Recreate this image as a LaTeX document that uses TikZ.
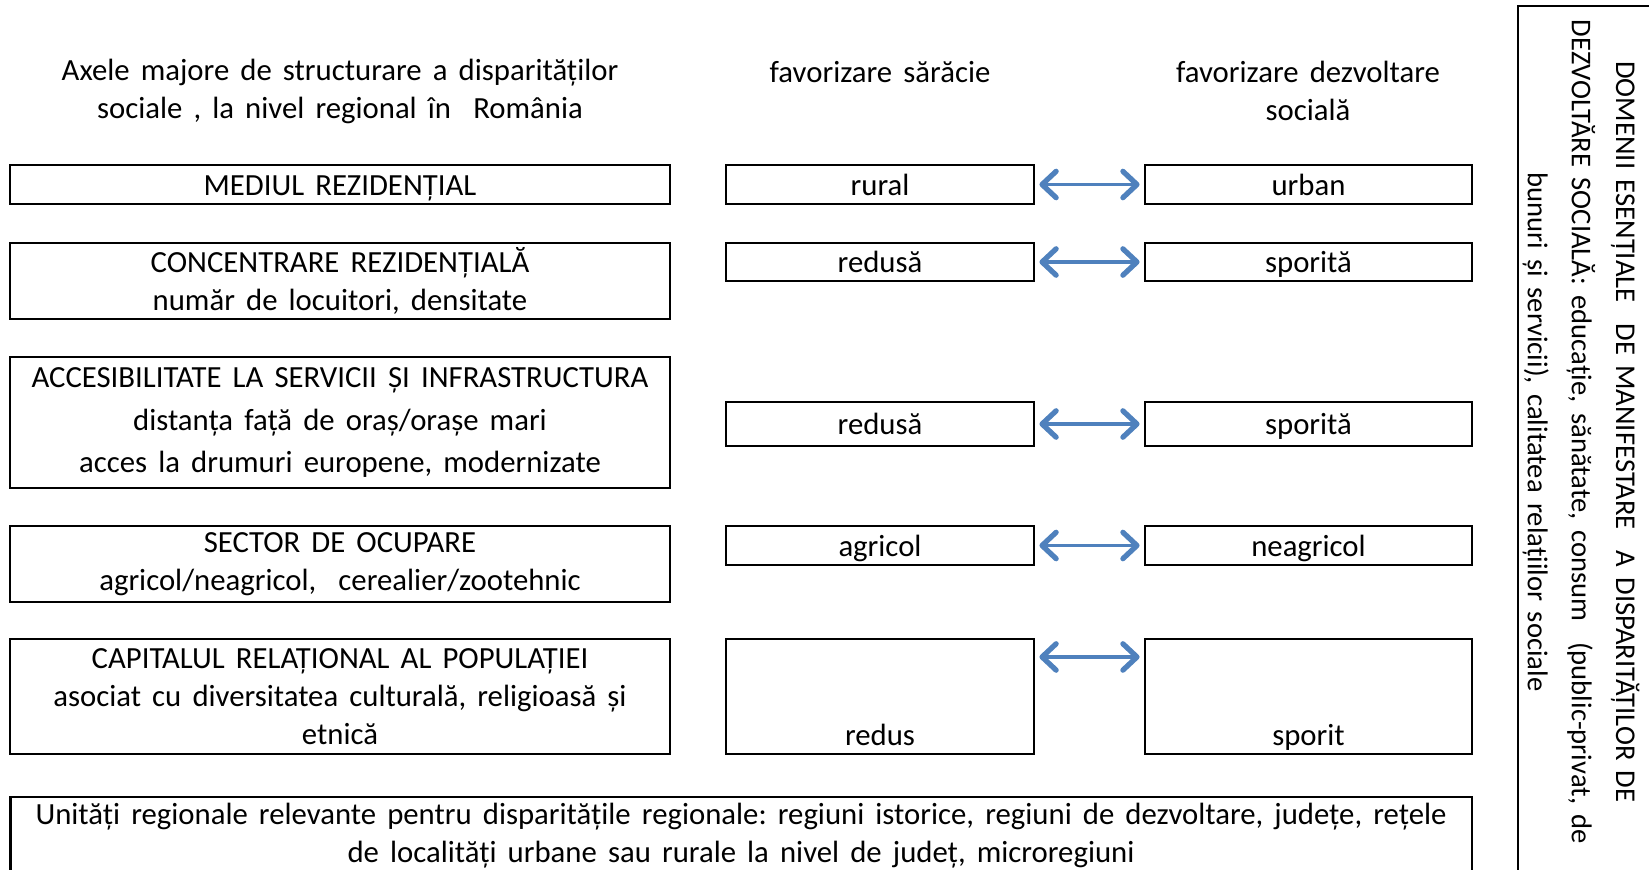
\documentclass[tikz,border=0pt]{standalone}
\usepackage{fontspec}
\setmainfont{Carlito}[WordSpace=1.6]
\usetikzlibrary{arrows.meta,positioning}
\definecolor{sagetablue}{RGB}{79,129,189}
\frenchspacing
\begin{document}
\begin{tikzpicture}[x=0.02cm,y=-0.02cm,every node/.style={font=\fontsize{17.5}{21.6}\selectfont}]
\useasboundingbox (0,0) rectangle (1649,869);

%boxes
\tikzstyle{axa} = [draw=black, line width=1.2pt, rectangle, text centered, align=center, minimum width=13.2cm, inner sep=0pt]
\tikzstyle{rand} = [text height=12.5pt, text depth=0pt]
\tikzstyle{saracie} = [draw=black, line width=1.2pt, rectangle, text centered, minimum width=6.16cm, inner sep=0pt, rand]
\tikzstyle{dezvoltare} = [draw=black, line width=1.2pt, rectangle, text centered, minimum width=6.54cm, inner sep=0pt, rand]
\tikzstyle{sageata} = [{Straight Barb[length=8pt,width=15pt,line width=3pt,round]}-{Straight Barb[length=8pt,width=15pt,line width=3pt,round]}, line width=2pt, draw=sagetablue, shorten <=2.5pt, shorten >=2.5pt]

%headers
\node (titlu)  [align=center] at (340,91)    {Axele majore de structurare a disparităților\\sociale , la nivel regional în \ România};
\node (hsarac) [align=center] at (880,72)    {favorizare sărăcie};
\node (hdezv)  [align=center] at (1308,91)   {favorizare dezvoltare\\socială};

%axe
\node (a1) [axa, rand, minimum height=0.78cm] at (340,184.5) {MEDIUL REZIDENȚIAL};
\node (a2) [axa, minimum height=1.52cm] at (340,281)   {CONCENTRARE REZIDENȚIALĂ\\număr de locuitori, densitate};
\node (a3) [axa, minimum height=2.62cm] at (340,422.5) {ACCESIBILITATE LA SERVICII ȘI INFRASTRUCTURA\\[2.8pt]distanța față de oraș/orașe mari\\[2.8pt]acces la drumuri europene, modernizate};
\node (a4) [axa, minimum height=1.52cm] at (340,564)   {SECTOR DE OCUPARE\\agricol/neagricol, \ cerealier/zootehnic};
\node (a5) [axa, minimum height=2.3cm]  at (340,696.5) {CAPITALUL RELAȚIONAL AL POPULAȚIEI\\asociat cu diversitatea culturală, religioasă și\\etnică};

%saracie
\node (s1) [saracie, minimum height=0.78cm] at (880,184.5) {rural};
\node (s2) [saracie, minimum height=0.76cm] at (880,262)   {redusă};
\node (s3) [saracie, minimum height=0.88cm] at (880,424)   {redusă};
\node (s4) [saracie, minimum height=0.78cm] at (880,545.5) {agricol};
\node (s5) [saracie, minimum height=2.3cm, label={[anchor=south,inner sep=5pt,rand]south:redus}] at (880,696.5) {};

%dezvoltare
\node (d1) [dezvoltare, minimum height=0.78cm] at (1308.5,184.5) {urban};
\node (d2) [dezvoltare, minimum height=0.76cm] at (1308.5,262)   {sporită};
\node (d3) [dezvoltare, minimum height=0.88cm] at (1308.5,424)   {sporită};
\node (d4) [dezvoltare, minimum height=0.78cm] at (1308.5,545.5) {neagricol};
\node (d5) [dezvoltare, minimum height=2.3cm, label={[anchor=south,inner sep=5pt,rand]south:sporit}] at (1308.5,696.5) {};

%arrows
\draw [sageata] (s1.east) -- (d1.west);
\draw [sageata] (s2.east) -- (d2.west);
\draw [sageata] (s3.east) -- (d3.west);
\draw [sageata] (s4.east) -- (d4.west);
\draw [sageata] ([yshift=-0.38cm]s5.north east) -- ([yshift=-0.38cm]d5.north west);

%unitati
\draw [line width=1.2pt] (10.5,880) -- (10.5,797) -- (1472,797) -- (1472,880);
\node (unitati) [align=center] at (741,835.5) {Unități regionale relevante pentru disparitățile regionale: regiuni istorice, regiuni de dezvoltare, județe, rețele\\de localități urbane sau rurale la nivel de județ, microregiuni};

%domenii
\draw [line width=1.2pt] (1518,880) -- (1518,6) -- (1660,6);
\node (domenii) [align=center, rotate=-90, font=\fontsize{16.3}{21.6}\selectfont] at (1581,432) {DOMENII ESENȚIALE \ DE MANIFESTARE \ A DISPARITĂȚILOR DE\\[3.5pt]DEZVOLTĂRE SOCIALĂ: educație, sănătate, consum \ (public-privat, de\\[3.5pt]bunuri și servicii), calitatea relațiilor sociale};

\end{tikzpicture}
\end{document}
